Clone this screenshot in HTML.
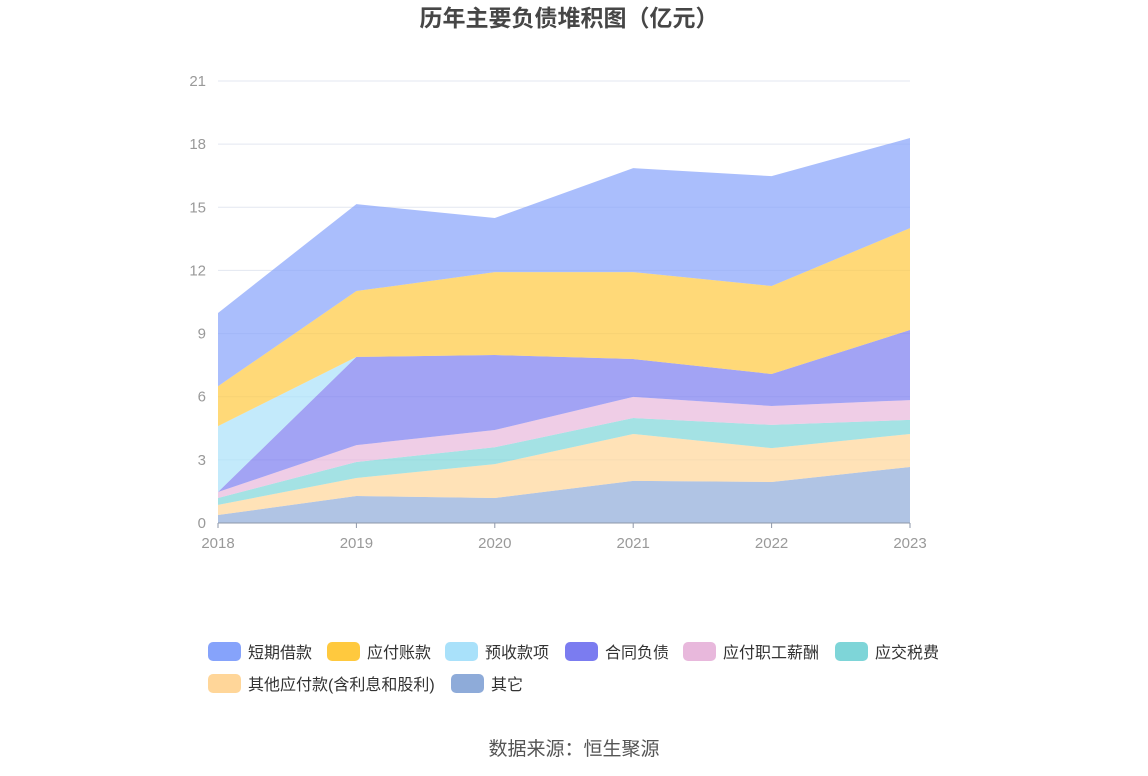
<!DOCTYPE html>
<html><head><meta charset="utf-8">
<style>
body{margin:0;background:#fff;font-family:"Liberation Sans","Noto Sans CJK SC",sans-serif;}
#wrap{position:relative;width:1148px;height:776px;overflow:hidden;}
</style></head>
<body>
<div id="wrap">
<svg id="chart" width="1148" height="776"></svg>
</div>
<script>
const years = ["2018","2019","2020","2021","2022","2023"];
const seriesNames = ["其它","其他应付款(含利息和股利)","应交税费","应付职工薪酬","合同负债","预收款项","应付账款","短期借款"];
const sOther = [0.38,1.28,1.19,2.0,1.95,2.66];
const sOtherPay = [0.48,0.86,1.61,2.23,1.61,1.57];
const sTax = [0.33,0.76,0.8,0.76,1.1,0.67];
const sSalary = [0.28,0.8,0.82,1.0,0.9,0.94];
const sContract = [0,4.19,3.56,1.8,1.52,3.33];
const sAdvance = [3.13,0,0,0,0,0];
const sPayable = [1.9,3.13,3.94,4.13,4.18,4.84];
const sShortLoan = [3.48,4.13,2.57,4.94,5.22,4.28];
const yTicks = [0,3,6,9,12,15,18,21];

const series=[sOther,sOtherPay,sTax,sSalary,sContract,sAdvance,sPayable,sShortLoan];
const colors=["#8eabd9","#ffd699","#7ed5d8","#e8b8dc","#7b7cf0","#a9e1fa","#ffc93e","#86a3fb"];
const svg=document.getElementById('chart');
const NS="http://www.w3.org/2000/svg";
function mk(t,a,p){const e=document.createElementNS(NS,t);for(const k in a)e.setAttribute(k,a[k]);(p||svg).appendChild(e);return e;}
const x0=218,x1=910,yB=523,yT=81,yMax=21;
const xs=i=>x0+(x1-x0)*i/(years.length-1);
const ys=v=>yB-(yB-yT)*v/yMax;

let t=mk('text',{x:569,y:26,'text-anchor':'middle','font-size':23,'font-weight':'bold',fill:'#464646'});
t.textContent='历年主要负债堆积图（亿元）';



yTicks.forEach(v=>{
  const l=mk('line',{x1:x0,x2:x1,y1:ys(v),y2:ys(v),stroke:'#e3e7f0','stroke-width':1});
  
  
  const tx=mk('text',{x:206,y:ys(v)+5,'text-anchor':'end','font-size':15,fill:'#999'});
  tx.textContent=v;
  
  
});

let cum=years.map(()=>0);
series.forEach((s,k)=>{
  const lower=cum.slice();
  cum=cum.map((c,i)=>c+s[i]);
  let d='';
  cum.forEach((c,i)=>{d+=(i?'L':'M')+xs(i)+','+ys(c);});
  for(let i=years.length-1;i>=0;i--) d+='L'+xs(i)+','+ys(lower[i]);
  const p=mk('path',{d:d+'Z',fill:colors[k],'fill-opacity':0.7,stroke:'none'});
  
  
});

const ax=mk('line',{x1:x0,x2:x1,y1:yB,y2:yB,stroke:'#8e97a8','stroke-width':1});


years.forEach((y,i)=>{
  const tk=mk('line',{x1:xs(i),x2:xs(i),y1:yB,y2:yB+5,stroke:'#8e97a8'});
  
  
  const tx=mk('text',{x:xs(i),y:548,'text-anchor':'middle','font-size':15,fill:'#999'});
  tx.textContent=y;
  
  
});

const legend=[["短期借款",7,208,652],["应付账款",6,327,652],["预收款项",5,445,652],["合同负债",4,565,652],["应付职工薪酬",3,683,652],["应交税费",2,835,652],["其他应付款(含利息和股利)",1,208,684],["其它",0,451,684]];
legend.forEach(([name,ci,lx,ly])=>{
  const g=mk('g',{});
  
  
  mk('rect',{x:lx,y:ly-10,width:33,height:19,rx:5,fill:colors[ci]},g);
  const tx=mk('text',{x:lx+40,y:ly+6,'font-size':16,fill:'#333'},g);
  tx.textContent=name;
});

t=mk('text',{x:574,y:755,'text-anchor':'middle','font-size':19,fill:'#555'});
t.textContent='数据来源：恒生聚源';


</script>
</body></html>
